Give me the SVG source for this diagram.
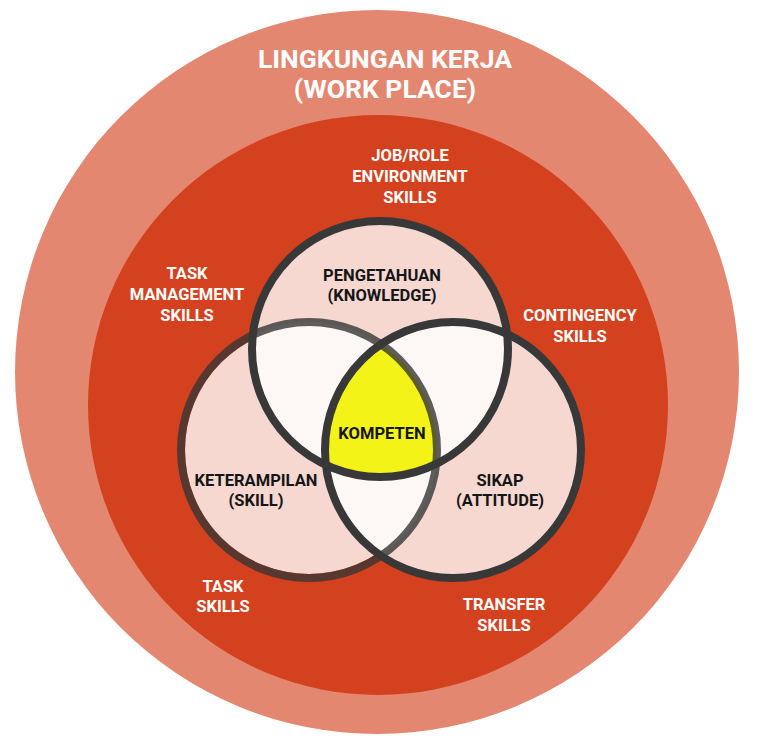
<svg xmlns="http://www.w3.org/2000/svg" width="768" height="745" viewBox="0 0 768 745">
<style>
.t{font-family:Roboto,"Liberation Sans",Arial,sans-serif;font-weight:700;text-anchor:middle}
.w{fill:#ffffff;font-size:16.5px}
.k{fill:#151515;font-size:16.5px}
.title{fill:#ffffff;font-size:26.5px}
.pink{fill:#f6d8d1}
.light{fill:#fdf7f5}
.ring{fill:none;stroke:#383838;stroke-width:8}
</style>
<defs>
<clipPath id="cTop"><circle cx="380" cy="349" r="128"/></clipPath>
<clipPath id="cLeft"><circle cx="309" cy="450" r="128"/></clipPath>
<clipPath id="cRight"><circle cx="453" cy="450" r="128"/></clipPath>
</defs>
<rect width="768" height="745" fill="#ffffff"/>
<g id="workplace">
<circle cx="377" cy="372" r="362" fill="#e38771"/>
<text class="t title" x="385" y="68">LINGKUNGAN KERJA</text>
<text class="t title" x="385" y="98">(WORK PLACE)</text>
</g>
<g id="skills-area">
<circle cx="378" cy="405" r="290" fill="#d4411f"/>
<text class="t w" x="410" y="161">JOB/ROLE</text>
<text class="t w" x="410" y="182">ENVIRONMENT</text>
<text class="t w" x="410" y="203">SKILLS</text>
<text class="t w" x="187" y="279">TASK</text>
<text class="t w" x="187" y="300">MANAGEMENT</text>
<text class="t w" x="187" y="321">SKILLS</text>
<text class="t w" x="580" y="321">CONTINGENCY</text>
<text class="t w" x="580" y="342">SKILLS</text>
<text class="t w" x="223" y="592">TASK</text>
<text class="t w" x="223" y="612">SKILLS</text>
<text class="t w" x="504" y="610">TRANSFER</text>
<text class="t w" x="504" y="631">SKILLS</text>
</g>
<g id="venn-fills">
<circle class="pink" cx="309" cy="450" r="124"/>
<circle class="pink" cx="453" cy="450" r="128"/>
<circle class="pink" cx="380" cy="349" r="128"/>
<g clip-path="url(#cTop)"><circle class="light" cx="309" cy="450" r="128"/><circle class="light" cx="453" cy="450" r="128"/></g>
<g clip-path="url(#cLeft)"><circle class="light" cx="453" cy="450" r="128"/></g>
<g clip-path="url(#cTop)"><g clip-path="url(#cLeft)"><circle cx="453" cy="450" r="128" fill="#f3f318"/></g></g>
</g>
<g id="skill">
<circle cx="309" cy="450" r="128" fill="none" stroke="#363636" stroke-opacity="0.8" stroke-width="8"/>
<text class="t k" x="256" y="486">KETERAMPILAN</text>
<text class="t k" x="256" y="506">(SKILL)</text>
</g>
<g id="attitude">
<circle class="ring" cx="453" cy="450" r="128"/>
<text class="t k" x="500" y="486">SIKAP</text>
<text class="t k" x="500" y="506">(ATTITUDE)</text>
</g>
<g id="knowledge">
<circle class="ring" cx="380" cy="349" r="128"/>
<text class="t k" x="382" y="281">PENGETAHUAN</text>
<text class="t k" x="382" y="301">(KNOWLEDGE)</text>
</g>
<g id="kompeten">
<text class="t k" x="382" y="439" fill="#000000">KOMPETEN</text>
</g>
</svg>
